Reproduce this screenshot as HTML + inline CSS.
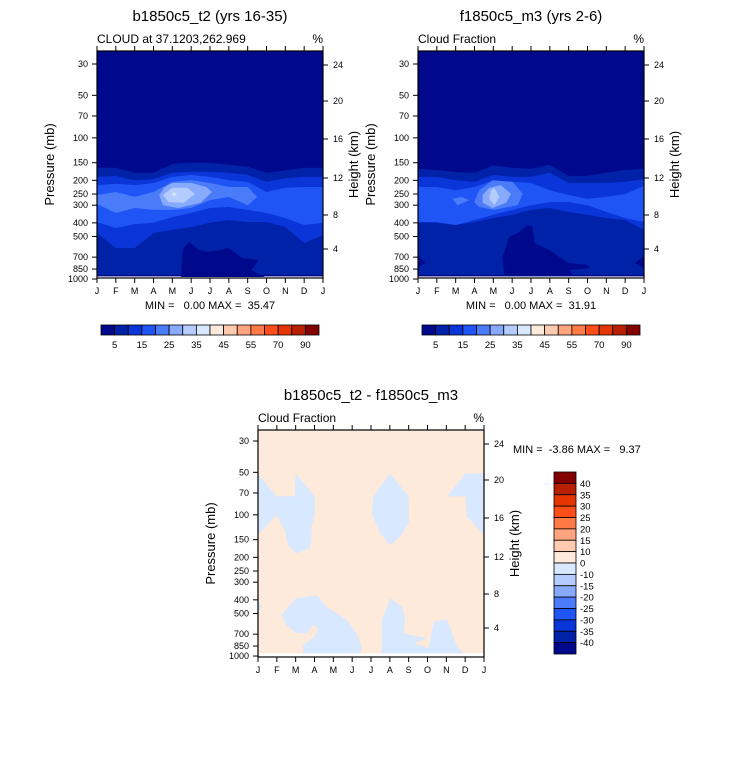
<!DOCTYPE html>
<html><head><meta charset="utf-8"><style>
html,body{margin:0;padding:0;background:#fff;}
svg{display:block;font-family:"Liberation Sans",sans-serif;}
text{white-space:pre;}
</style></head><body>
<svg id="s" width="733" height="766" viewBox="0 0 733 766" xmlns="http://www.w3.org/2000/svg"></svg>
<script>
// ---------- data ----------
const monthLabels = ["J","F","M","A","M","J","J","A","S","O","N","D","J"];
const pressureTicks = [30,50,70,100,150,200,250,300,400,500,700,850,1000];
const heightTicks = ["24","20","16","12","8","4"];
const cbLevelsTop = ["5","15","25","35","45","55","70","90"];
const cbLevelsDiff = ["40","35","30","25","20","15","10","0","-10","-15","-20","-25","-30","-35","-40"];
const cbColors = ["#00088c","#0022a8","#0a35d8","#2055f5","#4a7cfa","#88aafd","#b4ccfe","#d8e8fe","#feeadb","#ffcbb0","#ffa47c","#ff7a45","#ff4d1a","#e53500","#b82000","#850000"];

// Panel A (b1850c5_t2)
const aLev5Top  = [163,163,177,177,153,150,150,155,160,177,170,163,163];
const aLev10Top = [189,186,200,196,177,174,174,177,183,205,193,189,189];
const aLev10Bot = [472,603,603,472,449,428,400,382,395,395,428,556,488];
const aLev15Top = [216,212,216,209,189,183,189,200,205,242,226,223,223];
const aLev15Bot = [395,435,408,400,364,340,314,309,324,340,370,414,400];
const aLev20 = [[0,254],[1,242],[2,262],[3,242],[4,205],[5,200],[6,209],[7,223],[8,223],[8.5,262],[8,300],[7,262],[6,276],[5,314],[4,324],[3,324],[2,314],[1,340],[0,294]];
const aLev25 = [[3.3,254],[3.6,223],[4,209],[5,209],[5.8,223],[6.1,242],[5.5,289],[4.3,314],[3.5,300]];
const aLev30 = [[3.5,254],[4,226],[4.8,226],[5.2,250],[4.6,289],[3.8,285]];
const aLev35 = [[3.95,250],[4.1,243],[4.25,252],[4.1,258]];
const aLow = [[4.45,984],[4.5,822],[4.5,710],[4.6,603],[4.9,547],[5.4,623],[6,643],[7,603],[7.7,710],[8.6,733],[8.2,863],[9,984]];

// Panel B (f1850c5_m3)
const bLev5Top  = [166,169,175,177,157,163,166,155,186,186,177,169,166];
const bLev10Top = [189,189,200,205,183,189,189,177,209,209,209,205,196];
const bLev10Bot = [395,400,414,395,370,351,324,314,335,351,370,382,449];
const bLev15Top = [223,223,235,223,200,205,209,235,254,270,262,250,219];
const bLev15Bot = [395,395,414,382,351,324,300,285,285,300,335,370,395];
const bLev20 = [[2.98,285],[3.25,235],[3.96,200],[5.03,205],[5.56,250],[5.29,300],[4.05,324],[3.25,309]];
const bLev20b = [[1.83,270],[2.3,262],[2.72,276],[2.09,300]];
const bLev25 = [[3.43,254],[3.78,226],[4.4,216],[4.94,250],[4.67,289],[3.96,314],[3.43,289]];
const bLev30 = [[3.87,235],[4.05,226],[4.31,262],[4.05,300],[3.78,270]];
const bLow = [[4.58,935],[4.49,700],[4.85,503],[5.29,472],[5.83,414],[6.09,428],[6.18,556],[6.98,623],[7.96,769],[9.02,795],[9.11,835],[8.05,863],[8.22,935]];
const bLowL = [[0,690],[0.4,760],[0,830]];
const bLowR = [[12,690],[11.5,770],[12,840]];

// Panel C (difference)
const cNeg1 = [[0,51],[0.98,74],[1.95,74],[2.0,51],[3.01,74],[3.01,100],[2.84,121],[2.84,151],[2.75,173],[2.04,187],[1.6,164],[1.42,128],[0.98,100],[0,139]];
const cNeg2 = [[7.02,51],[8.0,74],[8.0,115],[7.55,143],[7.02,164],[6.48,135],[6.04,97],[6.13,74]];
const cNeg3 = [[11.01,51],[12,51],[12,139],[11.1,103],[11.01,74],[10.04,74]];
const cNeg4 = [[1.24,512],[2.04,390],[3.11,370],[3.64,447],[4.71,556],[5.24,690],[5.51,859],[5.42,957],[2.40,957],[2.40,835],[3.02,729],[3.20,637],[2.93,603],[2.58,690],[2.04,690],[1.51,603]];
const cNeg5 = [[7.02,390],[7.64,447],[7.82,556],[7.73,690],[8.97,750],[8.26,813],[9.06,881],[9.15,770],[9.33,571],[10.04,550],[10.57,859],[10.92,957],[6.57,957],[6.57,556]];
const cNeg6 = [[0,400],[0.2,450],[0,500]];

// ---------- drawing ----------
const NS="http://www.w3.org/2000/svg";
const S=document.getElementById('s');
function el(tag,attrs,parent){const e=document.createElementNS(NS,tag);for(const k in attrs)e.setAttribute(k,attrs[k]);(parent||S).appendChild(e);return e;}
function txt(x,y,t,size,anchor,parent,extra){const e=el('text',Object.assign({x:x,y:y,'font-size':size,'text-anchor':anchor||'start',fill:'#000'},extra||{}),parent);e.textContent=t;return e;}

function makePanel(cfg){
  const W=226,H=227;
  const x0=cfg.x,y0=cfg.y;
  const xs=m=>x0+m*W/12;
  const ys=p=>y0+cfg.off+(Math.log10(p)-Math.log10(30))*141.2;
  const g=el('g',{});
  
  
  const cid='clip'+cfg.id;
  const cp=el('clipPath',{id:cid},g);el('rect',{x:x0,y:y0,width:W,height:H-1},cp);
  el('rect',{x:x0,y:y0,width:W,height:H,fill:'#fff'},g);
  const plot=el('g',{'clip-path':'url(#'+cid+')'},g);
  const poly=(pts,fill,name)=>{const p=el('polygon',{points:pts.map(q=>xs(q[0]).toFixed(1)+','+ys(q[1]).toFixed(1)).join(' '),fill:fill},plot);return p;};
  const band=(top,bot,fill,name)=>{const pts=top.map((p,i)=>[i,p]);const b=bot?bot.map((p,i)=>[i,p]).reverse():[[12,957],[0,957]];return poly(pts.concat(b),fill,name);};
  cfg.draw(poly,band);
  el('rect',{x:x0,y:y0,width:W,height:H,fill:'none',stroke:'#000','stroke-width':1.2},g);
  pressureTicks.forEach(p=>{const y=ys(p);el('line',{x1:x0-5,x2:x0,y1:y,y2:y,stroke:'#000'},g);const t=txt(x0-9,y+3,String(p),9,'end',g);});
  const hOff=[14,50,88,127,164,198];
  heightTicks.forEach((h,i)=>{const y=y0+hOff[i];el('line',{x1:x0+W,x2:x0+W+5,y1:y,y2:y,stroke:'#000'},g);const t=txt(x0+W+10,y+3,h,9,'start',g);});
  monthLabels.forEach((m,i)=>{const x=xs(i);el('line',{x1:x,x2:x,y1:y0-5,y2:y0,stroke:'#000'},g);el('line',{x1:x,x2:x,y1:y0+H,y2:y0+H+5,stroke:'#000'},g);const t=txt(x,y0+H+16,m,9,'middle',g);});
  let t=txt(x0+W/2,cfg.titleY,cfg.title,15,'middle',g);
  t=txt(x0,y0-8,cfg.sub,12,'start',g);
  t=txt(x0+W,y0-8,'%',12,'end',g);
  t=txt(0,0,'Pressure (mb)',13,'middle',g,{transform:'translate('+(x0-43)+','+(y0+H/2)+') rotate(-90)'});
  t=txt(0,0,'Height (km)',13,'middle',g,{transform:'translate('+(x0+W+35)+','+(y0+H/2)+') rotate(-90)'});
  return g;
}
const C=cbColors;

makePanel({id:'a',name:'panel-b1850c5',x:97,y:51,off:13,titleY:21,title:'b1850c5_t2 (yrs 16-35)',sub:'CLOUD at 37.1203,262.969',
 draw:(poly,band)=>{
  poly([[0,10],[12,10],[12,957],[0,957]],C[0],'band-lt5');
  band(aLev5Top,null,C[1],'band-5');
  band(aLev10Top,aLev10Bot,C[2],'band-10');
  band(aLev15Top,aLev15Bot,C[3],'band-15');
  poly(aLev20,C[4],'band-20');poly(aLev25,C[5],'band-25');poly(aLev30,C[6],'band-30');poly(aLev35,C[7],'band-35');
  poly(aLow,C[0],'low-region');
  poly([[0,935],[12,935],[12,957],[0,957]],C[0],'bottom-strip');
 }});
makePanel({id:'b',name:'panel-f1850c5',x:418,y:51,off:13,titleY:21,title:'f1850c5_m3 (yrs 2-6)',sub:'Cloud Fraction',
 draw:(poly,band)=>{
  poly([[0,10],[12,10],[12,957],[0,957]],C[0],'band-lt5');
  band(bLev5Top,null,C[1],'band-5');
  band(bLev10Top,bLev10Bot,C[2],'band-10');
  band(bLev15Top,bLev15Bot,C[3],'band-15');
  poly(bLev20,C[4],'band-20');poly(bLev20b,C[4],'band-20b');poly(bLev25,C[5],'band-25');poly(bLev30,C[6],'band-30');
  poly(bLow,C[0],'low-region');poly(bLowL,C[0],'low-left');poly(bLowR,C[0],'low-right');
  poly([[0,935],[12,935],[12,957],[0,957]],C[0],'bottom-strip');
 }});
makePanel({id:'c',name:'panel-difference',x:258,y:430,off:11,titleY:400,title:'b1850c5_t2 - f1850c5_m3',sub:'Cloud Fraction',
 draw:(poly,band)=>{
  poly([[0,10],[12,10],[12,957],[0,957]],C[8],'positive-region');
  [cNeg1,cNeg2,cNeg3,cNeg4,cNeg5,cNeg6].forEach(r=>poly(r,C[7],'negative-region'));
 }});

let t=txt(210,309,'MIN =   0.00 MAX =  35.47',11,'middle');
t=txt(531,309,'MIN =   0.00 MAX =  31.91',11,'middle');
t=txt(513,453,'MIN =  -3.86 MAX =   9.37',11,'start');

function hbar(x0,name){
  const w=218/16;
  const g=el('g',{});
  cbColors.forEach((c,i)=>{const r=el('rect',{x:x0+i*w,y:325,width:w,height:10,fill:c,stroke:'#000','stroke-width':0.8},g);});
  cbLevelsTop.forEach((l,i)=>{const t=txt(x0+(2*i+1)*w,348,l,9.5,'middle',g);});
}
hbar(101,'colorbar-a');hbar(422,'colorbar-b');
(function(){
  const h=182/16,x0=554,y0=472;
  const g=el('g',{});
  cbColors.slice().reverse().forEach((c,i)=>{const r=el('rect',{x:x0,y:y0+i*h,width:22,height:h,fill:c,stroke:'#000','stroke-width':0.8},g);});
  cbLevelsDiff.forEach((l,i)=>{const t=txt(580,y0+(i+1)*h+3.5,l,9.5,'start',g);});
})();
</script>
</body></html>
